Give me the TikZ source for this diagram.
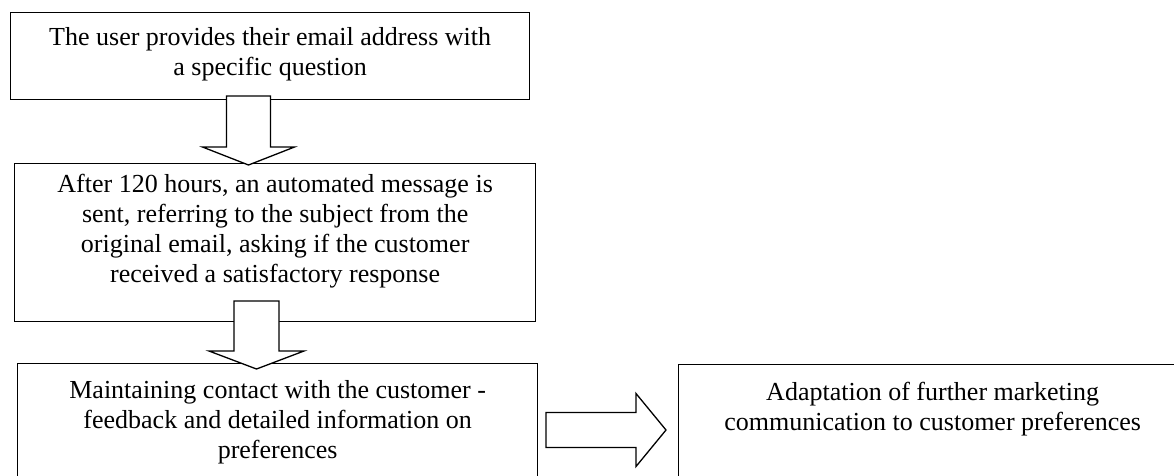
\documentclass[tikz,border=0pt]{standalone}
\usepackage{fontspec}
\setmainfont{Liberation Serif}
\usetikzlibrary{positioning,calc}
\tikzset{
  box/.style={draw=black, line width=1.3pt, fill=white, rectangle, inner sep=0pt, anchor=north west},
  txt/.style={align=center, inner sep=0pt, font=\fontsize{26}{30}\selectfont},
  blockarrow/.style={draw=black, line width=1.3pt, fill=white, line join=miter}
}
\begin{document}
\begin{tikzpicture}[x=1pt,y=-1pt]
\useasboundingbox (0,0) rectangle (1174,475);
\clip (0,0) rectangle (1174,475);
% boxes
\node[box, minimum width=519pt, minimum height=87pt] (b1) at (10,12) {};
\node[box, minimum width=521pt, minimum height=158pt] (b2) at (14,163) {};
\node[box, minimum width=520pt, minimum height=130pt] (b3) at (17,363) {};
\node[box, minimum width=508pt, minimum height=130pt] (b4) at (678,364) {};
% texts
\node[txt, below=15pt of b1.north] (t1) {The user provides their email address with\\a specific question};
\node[txt, below=11pt of b2.north] (t2) {After 120 hours, an automated message is\\sent, referring to the subject from the\\original email, asking if the customer\\received a satisfactory response};
\node[txt, below=17pt of b3.north] (t3) {Maintaining contact with the customer -\\feedback and detailed information on\\preferences};
\node[txt, below=18pt of b4.north] (t4) {Adaptation of further marketing\\communication to customer preferences};
% arrow ends
\coordinate (a1s) at (248.5,96);
\coordinate (a1e) at (248.5,165);
\coordinate (a2s) at (256.5,301);
\coordinate (a2e) at (256.5,369);
\coordinate (a3s) at (546,430);
\coordinate (a3e) at (666,430);
% block arrows (down)
\path[blockarrow] let \p1=(a1s), \p2=(a1e) in
  (\x1-22pt,\y1) -- (\x1+22pt,\y1) -- (\x1+22pt,\y2+18pt) -- (\x1+46pt,\y2+18pt)
  -- (\x2,\y2) -- (\x1-46pt,\y2+18pt) -- (\x1-22pt,\y2+18pt) -- cycle;
\path[blockarrow] let \p1=(a2s), \p2=(a2e) in
  (\x1-22.5pt,\y1) -- (\x1+22.5pt,\y1) -- (\x1+22.5pt,\y2+18pt) -- (\x1+47.5pt,\y2+18pt)
  -- (\x2,\y2) -- (\x1-47.5pt,\y2+18pt) -- (\x1-22.5pt,\y2+18pt) -- cycle;
% block arrow (right)
\path[blockarrow] let \p1=(a3s), \p2=(a3e) in
  (\x1,\y1+17.5pt) -- (\x2-30pt,\y1+17.5pt) -- (\x2-30pt,\y1+36.5pt) -- (\x2,\y2)
  -- (\x2-30pt,\y1-36.5pt) -- (\x2-30pt,\y1-17.5pt) -- (\x1,\y1-17.5pt) -- cycle;
\end{tikzpicture}
\end{document}
